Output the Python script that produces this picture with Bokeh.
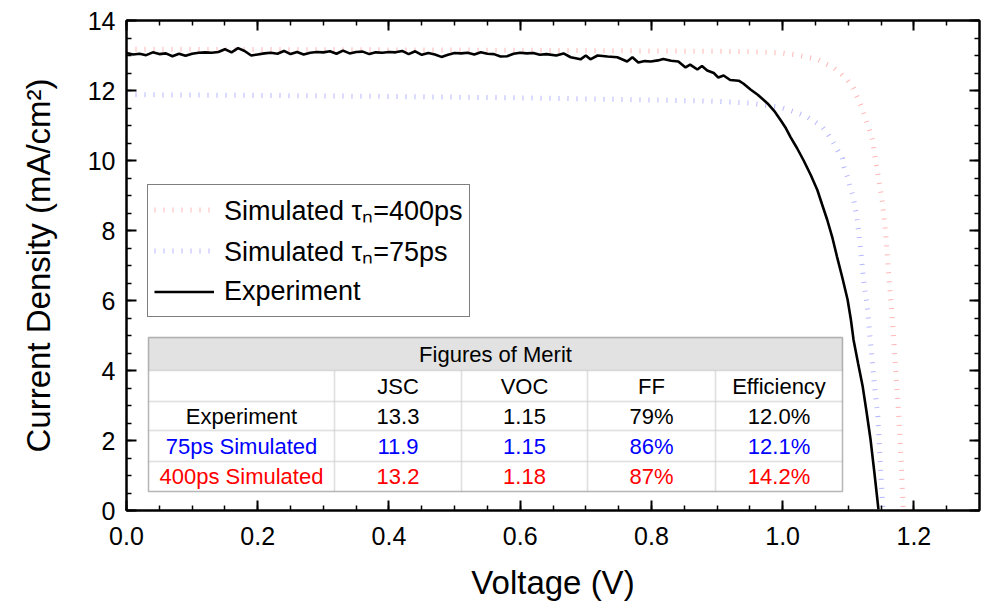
from bokeh.plotting import figure
from bokeh.models import (Range1d, LinearAxis, SingleIntervalTicker, PrintfTickFormatter,
                          CustomJSTickFormatter, Legend, LegendItem, BoxAnnotation, Label)
from bokeh.embed import file_html
from bokeh.resources import INLINE

# ---------------- data ----------------
exp_v = [0.00, 0.01, 0.02, 0.03, 0.04, 0.05, 0.06, 0.07, 0.08, 0.09,
         0.10, 0.11, 0.12, 0.13, 0.14, 0.15, 0.16, 0.17, 0.18, 0.19,
         0.20, 0.21, 0.22, 0.23, 0.24, 0.25, 0.26, 0.27, 0.28, 0.29,
         0.30, 0.31, 0.32, 0.33, 0.34, 0.35, 0.36, 0.37, 0.38, 0.39,
         0.40, 0.41, 0.42, 0.43, 0.44, 0.45, 0.46, 0.47, 0.48, 0.49,
         0.50, 0.51, 0.52, 0.53, 0.54, 0.55, 0.56, 0.57, 0.58, 0.59,
         0.60, 0.61, 0.62, 0.63, 0.64,
         0.655, 0.666, 0.677, 0.692, 0.700, 0.707, 0.718, 0.733, 0.748, 0.763,
         0.771, 0.780, 0.790, 0.799, 0.810, 0.818, 0.830, 0.841, 0.852, 0.859,
         0.870, 0.877, 0.885, 0.895, 0.902, 0.910, 0.920, 0.933, 0.940, 0.951,
         0.962, 0.977, 0.987, 0.997, 1.005, 1.012, 1.022, 1.032, 1.043, 1.053,
         1.060, 1.068, 1.076, 1.083, 1.091, 1.099, 1.104, 1.108, 1.115, 1.122,
         1.128, 1.134, 1.140, 1.146]
exp_j = [13.07, 13.03, 13.05, 13.01, 13.09, 13.04, 13.06, 12.98, 13.05, 12.99,
         13.05, 13.08, 13.09, 13.08, 13.10, 13.18, 13.09, 13.21, 13.13, 13.00,
         13.03, 13.06, 13.08, 13.05, 13.13, 13.04, 13.10, 13.03, 13.08, 13.10,
         13.09, 13.12, 13.05, 13.14, 13.06, 13.10, 13.11, 13.04, 13.09, 13.08,
         13.10, 13.09, 13.13, 13.04, 13.12, 13.02, 13.07, 13.03, 12.96, 13.02,
         13.07, 13.06, 13.08, 13.03, 13.09, 13.05, 13.04, 12.97, 12.98, 13.05,
         13.08, 13.06, 13.07, 13.02, 13.04,
         13.00, 13.06, 12.95, 12.89, 13.00, 12.89, 13.00, 12.97, 12.95, 12.83,
         12.95, 12.80, 12.84, 12.83, 12.86, 12.90, 12.85, 12.83, 12.66, 12.74,
         12.60, 12.70, 12.57, 12.50, 12.37, 12.43, 12.30, 12.28, 12.20, 12.03,
         11.88, 11.63, 11.42, 11.15, 10.92, 10.67, 10.35, 10.00, 9.58, 9.15,
         8.75, 8.30, 7.78, 7.24, 6.65, 6.02, 5.45, 4.88, 4.20, 3.54,
         2.80, 2.02, 1.05, 0.03]

sim400_v = [0.00, 0.20, 0.40, 0.60, 0.80, 0.90, 0.95, 1.00, 1.02, 1.038,
            1.053, 1.065, 1.077, 1.088, 1.099, 1.108, 1.119, 1.129, 1.137, 1.141,
            1.146, 1.152, 1.157, 1.161, 1.167, 1.172, 1.177, 1.181, 1.184]
sim400_j = [13.18, 13.17, 13.16, 13.15, 13.13, 13.12, 13.11, 13.07, 13.02, 12.95,
            12.89, 12.77, 12.66, 12.49, 12.29, 12.06, 11.58, 11.06, 10.58, 10.07,
            9.52, 8.80, 7.93, 6.87, 5.53, 4.10, 2.68, 1.25, 0.00]

sim75_v = [0.00, 0.20, 0.40, 0.60, 0.80, 0.90, 0.95, 0.997, 1.012, 1.024,
           1.038, 1.050, 1.061, 1.068, 1.077, 1.084, 1.091, 1.094, 1.099, 1.102,
           1.107, 1.113, 1.119, 1.123, 1.129, 1.134, 1.139, 1.145, 1.148, 1.151,
           1.153]
sim75_j = [11.88, 11.86, 11.83, 11.79, 11.73, 11.69, 11.64, 11.52, 11.43, 11.35,
           11.24, 11.10, 10.95, 10.78, 10.52, 10.29, 10.07, 9.81, 9.52, 9.30,
           9.01, 8.40, 7.44, 6.64, 5.82, 4.79, 3.74, 2.68, 1.65, 0.60,
           0.00]

legend_labels = ["Simulated \u03c4\u2099=400ps", "Simulated \u03c4\u2099=75ps", "Experiment"]

table_title = "Figures of Merit"
table_cols = ["", "JSC", "VOC", "FF", "Efficiency"]
table_rows = ["Experiment", "75ps Simulated", "400ps Simulated"]
table_jsc = ["13.3", "11.9", "13.2"]
table_voc = ["1.15", "1.15", "1.18"]
table_ff = ["79%", "86%", "87%"]
table_eff = ["12.0%", "12.1%", "14.2%"]
row_colors = ["black", "#0000ff", "#ff0000"]

# ---------------- figure ----------------
FONT = "Liberation Sans"
p = figure(width=984, height=603, output_backend="svg", toolbar_location=None,
           x_range=Range1d(0, 1.3), y_range=Range1d(0, 14),
           min_border_left=126, min_border_right=5, min_border_top=20, min_border_bottom=92,
           x_axis_label="Voltage (V)", y_axis_label="Current Density (mA/cm\u00b2)")
p.xgrid.visible = False
p.ygrid.visible = False
p.outline_line_color = "black"
p.outline_line_width = 2
p.background_fill_color = "white"
p.border_fill_color = "white"

p.xaxis.ticker = SingleIntervalTicker(interval=0.2, num_minor_ticks=4)
p.yaxis.ticker = SingleIntervalTicker(interval=2, num_minor_ticks=4)
p.xaxis.formatter = PrintfTickFormatter(format="%.1f")
p.yaxis.formatter = PrintfTickFormatter(format="%d")


def style_axis(ax, labels=True):
    ax.axis_line_width = 2
    ax.axis_line_color = "black"
    ax.major_tick_in = 10
    ax.major_tick_out = 0
    ax.minor_tick_in = 5
    ax.minor_tick_out = 0
    ax.major_tick_line_width = 2
    ax.minor_tick_line_width = 1.5
    ax.major_tick_line_color = "black"
    ax.minor_tick_line_color = "black"
    if labels:
        ax.major_label_text_font = FONT
        ax.major_label_text_font_size = "25px"
        ax.major_label_text_color = "black"
        ax.major_label_standoff = 11
        ax.axis_label_text_font = FONT
        ax.axis_label_text_font_size = "33px"
        ax.axis_label_text_font_style = "normal"
        ax.axis_label_text_color = "black"
    else:
        ax.formatter = CustomJSTickFormatter(code="return ''")
        ax.major_label_standoff = 0


for ax in p.xaxis:
    style_axis(ax)
    ax.major_label_standoff = 16
    ax.axis_label_standoff = 16
for ax in p.yaxis:
    style_axis(ax)
    ax.axis_label_standoff = 28

top_ax = LinearAxis(ticker=SingleIntervalTicker(interval=0.2, num_minor_ticks=4))
right_ax = LinearAxis(ticker=SingleIntervalTicker(interval=2, num_minor_ticks=4))
style_axis(top_ax, labels=False)
style_axis(right_ax, labels=False)
p.add_layout(top_ax, "above")
p.add_layout(right_ax, "right")

# ---------------- curves ----------------
r400 = p.line(sim400_v, sim400_j, line_color="#ff4040", line_alpha=0.38, line_width=5,
              line_dash="1 8", line_cap="butt")
r75 = p.line(sim75_v, sim75_j, line_color="#4040ff", line_alpha=0.38, line_width=5,
             line_dash="1 8", line_cap="butt")
rexp = p.line(exp_v, exp_j, line_color="black", line_width=2.6)

legend = Legend(items=[LegendItem(label=legend_labels[0], renderers=[r400]),
                       LegendItem(label=legend_labels[1], renderers=[r75]),
                       LegendItem(label=legend_labels[2], renderers=[rexp])],
                location=(21, 193))
legend.label_text_font = FONT
legend.label_text_font_size = "27px"
legend.label_text_color = "black"
legend.label_height = 37
legend.glyph_height = 37
legend.glyph_width = 60
legend.label_standoff = 10
legend.spacing = 4
legend.padding = 6
legend.margin = 0
legend.border_line_color = "black"
legend.border_line_width = 1.5
legend.background_fill_color = "white"
legend.background_fill_alpha = 1
p.add_layout(legend)

# ---------------- table (pixel layout, frame-relative) ----------------
FX0, FY0 = 126, 511  # frame left / bottom in page pixels
col_x = [148, 334, 461, 587, 715, 842]
row_y = [338, 371, 402, 431, 462, 492]


def sx(x):
    return x - FX0


def sy(y):
    return FY0 - y


def box(l, r, t, b, **kw):
    bx = BoxAnnotation(left=sx(l), right=sx(r), top=sy(t), bottom=sy(b),
                       left_units="screen", right_units="screen",
                       top_units="screen", bottom_units="screen", **kw)
    p.add_layout(bx)


box(col_x[0], col_x[-1], row_y[0], row_y[-1], fill_color="white", fill_alpha=1, line_color=None)
box(col_x[0], col_x[-1], row_y[0], row_y[1], fill_color="#e2e2e2", fill_alpha=1,
    line_color="#c4c4c4", line_width=1.5)
for ri in range(1, 5):
    for ci in range(5):
        box(col_x[ci], col_x[ci + 1], row_y[ri], row_y[ri + 1], fill_color=None,
            line_color="#c4c4c4", line_width=1.5)
box(col_x[0], col_x[-1], row_y[0], row_y[-1], fill_color=None, line_color="#3a3a3a", line_width=1.5)


def cell_text(txt, x, y, color="black"):
    p.add_layout(Label(x=sx(x), y=sy(y), x_units="screen", y_units="screen", text=txt,
                       text_align="center", text_baseline="middle", text_font=FONT,
                       text_font_size="22px", text_color=color))


cell_text(table_title, (col_x[0] + col_x[-1]) / 2, (row_y[0] + row_y[1]) / 2)
for ci in range(1, 5):
    cell_text(table_cols[ci], (col_x[ci] + col_x[ci + 1]) / 2, (row_y[1] + row_y[2]) / 2)
for ri in range(3):
    yc = (row_y[ri + 2] + row_y[ri + 3]) / 2
    vals = [table_rows[ri], table_jsc[ri], table_voc[ri], table_ff[ri], table_eff[ri]]
    for ci in range(5):
        cell_text(vals[ci], (col_x[ci] + col_x[ci + 1]) / 2, yc, row_colors[ri])

open("out.html", "w").write(file_html(p, INLINE))
